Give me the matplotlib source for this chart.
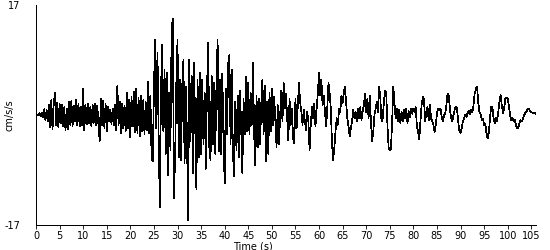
import numpy as np
import matplotlib
matplotlib.use("Agg")
import matplotlib.pyplot as plt

# acceleration record, sampled every 0.25 s (cm/s/s), one row = 5 s
dt = 0.25
accel_rows = [
    [0.0, 0.1, -0.1, 0.3, -0.2, 0.4, -0.3, 0.9, -0.8, 0.8, -1.0, 1.5, -1.9, 2.3, -2.2, 1.6, 3.4, -1.5, 1.9, -1.9],
    [1.8, -1.3, 1.5, -1.8, 1.2, -2.4, 1.0, -2.2, 2.0, -1.5, 2.2, -1.8, 1.4, -1.0, 2.3, -1.6, 1.8, -1.8, 1.2, -1.5],
    [4.1, -2.4, 1.5, -1.4, 1.7, -1.3, 1.2, -1.8, 1.6, -1.2, 1.7, -1.5, 1.4, -1.8, -4.0, 2.5, -1.5, 2.2, -2.0, 1.8],
    [-2.5, 1.2, -1.0, 0.8, -1.4, 1.0, -1.5, 1.6, -2.3, 4.5, -1.6, 2.0, -2.8, 1.8, -2.0, 1.4, -2.5, 3.5, -2.1, 2.4],
    [-3.4, 2.8, -1.8, 3.6, -2.6, 4.1, -2.8, 2.6, -3.3, 3.0, -2.5, 2.3, -3.0, 2.0, -2.4, 5.1, -2.8, 3.0, -6.5, -7.2],
    [3.9, 11.6, -2.0, 9.6, -3.0, -14.3, 3.9, 10.8, -2.5, 7.0, -6.0, 6.5, -9.3, 3.5, -5.5, 13.1, 14.9, -12.8, -6.0, 5.0],
    [11.6, -6.5, 5.5, -7.0, 4.5, 8.5, -7.5, 4.4, -3.0, -16.2, 8.6, -4.0, 6.0, -9.0, 8.0, -2.0, -11.4, 5.5, -6.5, 6.5],
    [-6.0, 5.5, -4.5, 3.5, -8.3, 4.0, 11.1, -5.0, -7.0, 6.0, -4.5, 5.0, -6.0, 4.5, 11.6, -5.6, 5.5, -6.0, 6.4, -4.0],
    [-10.6, 4.0, -3.0, 8.0, 9.3, -4.5, 7.0, -6.0, -9.5, 2.0, -5.5, 3.0, -6.5, 3.8, -2.0, -9.0, 2.5, -3.0, 5.9, -2.5],
    [5.0, -3.0, 3.5, -1.5, 8.0, -3.0, -7.8, 3.0, -5.0, 2.5, -4.5, 1.5, 5.5, -3.0, 4.5, -7.1, 2.0, -6.0, 3.5, -2.5],
    [4.1, -1.5, 2.8, -1.0, -4.9, 1.5, -4.5, -0.5, 3.8, -1.0, 4.9, 1.0, 3.3, -0.5, -3.9, 2.5, -1.5, 1.0, -3.5, -4.4],
    [2.5, -2.0, 1.5, 4.9, 2.0, 0.5, -1.5, 0.8, -1.0, -2.3, 0.5, -1.0, -5.4, -1.5, 1.2, -0.5, 1.8, -1.8, 1.0, 3.3],
    [6.5, 3.0, 5.5, 1.5, 3.0, 0.5, -1.8, 1.0, 4.9, 3.4, 1.0, -4.4, -7.0, -5.0, -2.5, -0.5, -1.5, 1.0, 0.5, 3.0],
    [1.8, 3.4, 4.4, 1.8, -0.5, -1.8, -3.3, -2.0, -1.0, 0.8, -0.5, 0.5, -1.0, 1.0, -0.5, 1.2, -0.8, 0.5, 1.5, 3.3],
    [0.5, 2.5, -0.5, 3.0, -1.0, -4.1, -2.6, 0.0, 1.0, 2.0, 0.5, 4.4, 2.5, -1.0, -0.5, 2.0, 3.8, 3.3, -1.5, -5.0],
    [-5.4, -5.3, -1.0, 4.4, 1.8, -0.5, 1.0, -1.0, 0.8, -1.3, 0.5, -1.0, 0.8, -0.5, 1.0, -1.3, 0.6, -0.3, 1.0, 0.2],
    [1.0, 0.5, 1.2, -1.8, -2.5, -3.8, -1.0, 1.5, 2.8, 2.5, -1.0, 0.5, 1.3, -0.8, 1.6, -0.5, -1.0, -1.5, -2.6, -1.5],
    [0.2, 1.0, 0.8, 1.0, -0.3, -1.0, 0.0, 0.3, 1.5, 3.3, 3.0, 1.0, -0.5, -1.0, 0.0, 0.8, 1.3, 1.0, -1.0, -2.4],
    [-2.8, -2.0, -1.0, -0.5, 0.0, -0.3, 0.3, 0.6, 0.2, 0.8, 0.4, 1.5, 3.3, 4.0, 4.4, 2.0, 0.5, 0.2, -0.8, -0.6],
    [-1.5, -1.3, -2.8, -3.6, -2.8, -0.5, 1.3, 1.2, -0.5, -1.3, -0.5, -1.0, 0.5, 2.0, 3.1, 1.5, 0.3, 1.0, 2.5, 2.7],
    [2.5, 1.5, 0.0, -0.8, -0.5, -1.0, -0.8, -1.5, -2.1, -2.0, -1.2, -0.8, -1.0, -0.5, 0.0, 0.4, 0.6, 0.9, 0.9, 0.6],
    [0.4, 0.4, 0.3, 0.3, 0.2],
]
accel = np.concatenate([np.array(r) for r in accel_rows])
time = np.arange(len(accel)) * dt

xticks = list(range(0, 106, 5))

fig = plt.figure(figsize=(5.5, 2.5), dpi=100)
ax = fig.add_axes([36/550, 25/250, 500/550, 220/250])

ax.plot(time, accel, color='black', linewidth=0.5, antialiased=False)

ax.set_xlim(0, 106)
ax.set_ylim(-17, 17)
ax.spines['top'].set_visible(False)
ax.spines['right'].set_visible(False)
for s in ['left', 'bottom']:
    ax.spines[s].set_linewidth(0.6)
    ax.spines[s].set_antialiased(False)

ax.set_xticks(xticks)
ax.set_xticklabels([str(v) for v in xticks])
ax.set_yticks([-17, 17])
ax.set_yticklabels(['-17', '17'])
ax.set_yticks([-17], minor=True)
ax.tick_params(axis='x', direction='out', length=3, width=0.6, pad=1, labelsize=7)
ax.tick_params(axis='y', which='major', length=0, pad=11, labelsize=7)
ax.tick_params(axis='y', which='minor', length=4, width=0.6)

ax.set_xlabel('Time (s)', fontsize=7, labelpad=0, va='top')
ax.xaxis.set_label_coords(0.434, -0.075)
ax.set_ylabel('cm/s/s', fontsize=7)
ax.yaxis.set_label_coords(-0.043, 0.5)

fig.savefig('out.png', dpi=100)
